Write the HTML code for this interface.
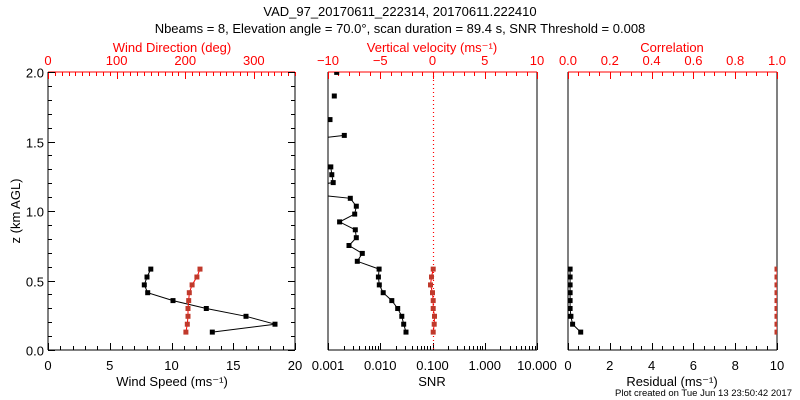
<!DOCTYPE html>
<html><head><meta charset="utf-8"><style>
body{margin:0;background:#fff}
svg{display:block;font-family:"Liberation Sans",sans-serif}
</style></head><body>
<svg id="c" width="800" height="400" xmlns="http://www.w3.org/2000/svg">
<text x="400" y="16" font-size="13" text-anchor="middle">VAD_97_20170611_222314, 20170611.222410</text>
<text x="400" y="33" font-size="13" text-anchor="middle">Nbeams = 8, Elevation angle = 70.0°, scan duration = 89.4 s, SNR Threshold = 0.008</text>
<text x="792" y="396" font-size="9.5" text-anchor="end">Plot created on Tue Jun 13 23:50:42 2017</text>
</svg>
<script>
const gateStart=0.129, gateStep=0.0566;
const windSpeed=[13.3,18.38,16.03,12.82,10.12,8.07,7.80,8.02,8.32];
const windDir=[201,203,204,204,205,206,210,217,221.5];
const snr=[0.0311,0.0281,0.0258,0.0216,0.0166,0.0114,0.0096,0.0092,0.0095,0.00364,0.00453,0.00252,0.00348,0.00333,0.00167,0.00324,0.00348,0.00267,0.0001,0.00126,0.00118,0.00113,null,null,0.0001,0.00205,null,0.00109,null,null,0.00132,null,null,0.00147];
const wVel=[0.07,0.16,0.19,0.07,0.07,0,-0.19,-0.1,0.07];
const residual=[0.61,0.22,0.14,0.1,0.1,0.1,0.1,0.1,0.1];
const correlation=[1,1,1,1,1,1,1,1,1];
const svg=document.getElementById('c');
const NS='http://www.w3.org/2000/svg';
function el(t,a,txt){const e=document.createElementNS(NS,t);for(const k in a)e.setAttribute(k,a[k]);if(txt!=null)e.textContent=txt;svg.appendChild(e);return e;}
const T=72,B=350;
const yS=h=>B-(h/2)*(B-T);
const hOf=i=>gateStart+gateStep*i;
const P=[{x0:48,x1:295},{x0:328,x1:537},{x0:568,x1:777}];
function lin(p,a,b){return v=>p.x0+(v-a)/(b-a)*(p.x1-p.x0);}
function logS(p){return v=>p.x0+(Math.log10(v)+3)/4*(p.x1-p.x0);}
const RED='#ff0000';
P.forEach((p,k)=>{const d=el('clipPath',{id:'cp'+k});const r=document.createElementNS(NS,'rect');r.setAttribute('x',p.x0);r.setAttribute('y',T);r.setAttribute('width',p.x1-p.x0);r.setAttribute('height',B-T);d.appendChild(r);});
function tick(x1,y1,x2,y2,c,name){const t=el('line',{x1,y1,x2,y2,stroke:c,'stroke-width':1});}
function label(x,y,s,c,anchor,name,fs){const t=el('text',{x,y,'font-size':fs||13,fill:c,'text-anchor':anchor||'middle'},s);return t;}
P.forEach((p,k)=>{
 const l=el('line',{x1:p.x0,y1:T,x2:p.x0,y2:B,stroke:'#000'});
 const r=el('line',{x1:p.x1,y1:T,x2:p.x1,y2:B,stroke:'#000'});
 const b=el('line',{x1:p.x0,y1:B,x2:p.x1,y2:B,stroke:'#000'});
 const t=el('line',{x1:p.x0,y1:T,x2:p.x1,y2:T,stroke:RED});
});
function linAxis(p,a,b,maj,minor,fmt,top,c,name){
 const s=lin(p,a,b);const n=Math.round((b-a)/minor);
 for(let i=0;i<=n;i++){const v=a+i*minor;const x=Math.round(s(v))+0.5;const isM=Math.abs(v/maj-Math.round(v/maj))<1e-6;const L=isM?7:4;
  if(top)tick(x,T,x,T+L,c,name+'-tick');else tick(x,B,x,B-L,c,name+'-tick');
  if(isM)label(s(v),top?T-7:B+20,fmt(v),c,'middle',name+'-label');}
}
linAxis(P[0],0,20,5,1,v=>String(v),false,'#000','wind-speed-axis');
linAxis(P[0],0,360,100,10,v=>String(v),true,RED,'wind-direction-axis');
linAxis(P[1],-10,10,5,1,v=>String(v).replace('-','−'),true,RED,'vertical-velocity-axis');
linAxis(P[2],0,10,2,0.5,v=>String(v),false,'#000','residual-axis');
linAxis(P[2],0,1,0.2,0.05,v=>v.toFixed(1),true,RED,'correlation-axis');
{const s=logS(P[1]);const labs=['0.001','0.010','0.100','1.000','10.000'];
 for(let d=-3;d<=1;d++){for(let m=1;m<=9;m++){if(d==1&&m>1)break;const x=Math.round(s(m*Math.pow(10,d)))+0.5;tick(x,B,x,B-(m==1?7:4),'#000','snr-axis-tick');}
  label(s(Math.pow(10,d)),B+20,labs[d+3],'#000','middle','snr-axis-label');}}
for(let i=0;i<=20;i++){const v=i*0.1;const y=Math.round(yS(v))+0.5;const L=i%5==0?7:4;tick(48,y,48+L,y,'#000','height-axis-tick');tick(295,y,295-L,y,'#000','height-axis-tick');if(i%5==0)label(44,y+5,v.toFixed(1),'#000','end','height-axis-label');}
label(172,52,'Wind Direction (deg)',RED,'middle','wind-direction-title');
label(432,52,'Vertical velocity (ms⁻¹)',RED,'middle','vertical-velocity-title');
label(672,52,'Correlation',RED,'middle','correlation-title');
label(172,386,'Wind Speed (ms⁻¹)','#000','middle','wind-speed-title');
label(432,386,'SNR','#000','middle','snr-title');
label(672,386,'Residual (ms⁻¹)','#000','middle','residual-title');
{const t=label(20,211,'z (km AGL)','#000','middle','height-axis-title');t.setAttribute('transform','rotate(-90 20 211)');}
{const x=Math.round(lin(P[1],-10,10)(0))+0.5;const l=el('line',{x1:x,y1:T,x2:x,y2:B,stroke:RED,'stroke-dasharray':'1,3','stroke-width':1.2});}
function series(vals,sx,color,mcolor,k,name){
 const g=el('g',{'clip-path':'url(#cp'+k+')'});
 let seg=[];const segs=[];
 vals.forEach((v,i)=>{if(v==null){if(seg.length)segs.push(seg);seg=[];}else seg.push([sx(v),yS(hOf(i))]);});
 if(seg.length)segs.push(seg);
 segs.forEach(s=>{const pl=document.createElementNS(NS,'polyline');pl.setAttribute('points',s.map(q=>q[0].toFixed(1)+','+q[1].toFixed(1)).join(' '));pl.setAttribute('fill','none');pl.setAttribute('stroke',color);pl.setAttribute('stroke-width','1');
  
  
  g.appendChild(pl);
  s.forEach(q=>{const r=document.createElementNS(NS,'rect');r.setAttribute('x',(q[0]-2.5).toFixed(1));r.setAttribute('y',(q[1]-2.5).toFixed(1));r.setAttribute('width',5);r.setAttribute('height',5);r.setAttribute('fill',mcolor);
   
   
   g.appendChild(r);});});
 svg.appendChild(g);
}
series(windSpeed,lin(P[0],0,20),'#000','#000',0,'wind-speed-series');
series(windDir,lin(P[0],0,360),RED,'#c0392b',0,'wind-direction-series');
series(snr,v=>logS(P[1])(v),'#000','#000',1,'snr-series');
series(wVel,lin(P[1],-10,10),RED,'#c0392b',1,'vertical-velocity-series');
series(residual,lin(P[2],0,10),'#000','#000',2,'residual-series');
series(correlation,lin(P[2],0,1),RED,'#c0392b',2,'correlation-series');
</script>
</body></html>
